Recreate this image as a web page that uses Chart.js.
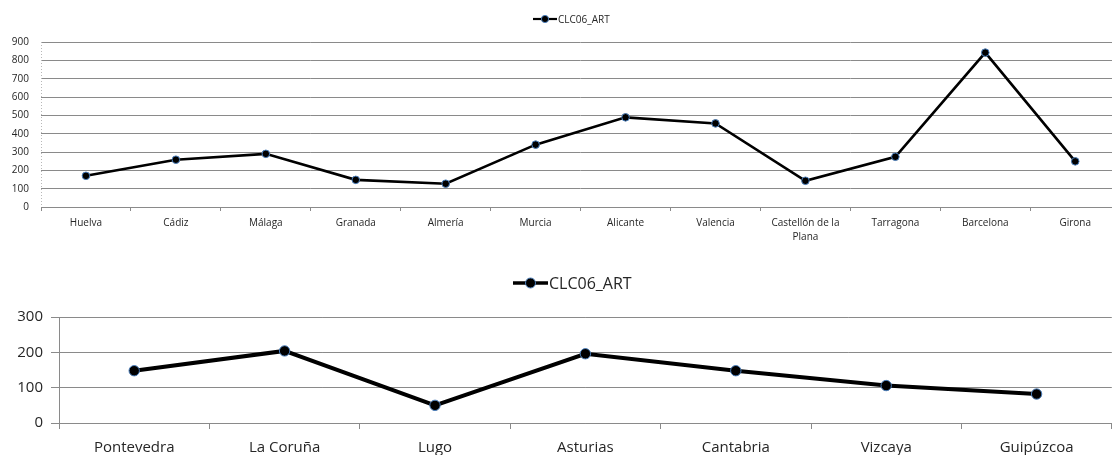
<!DOCTYPE html>
<html><head><meta charset="utf-8">
<script src="https://cdn.jsdelivr.net/npm/chart.js@4"></script>
<style>
html,body{margin:0;padding:0;background:#fff;overflow:hidden;width:1112px;height:455px;position:relative;}
#w1{position:absolute;left:0;top:0;width:1125px;height:262px;}
#w2{position:absolute;left:0;top:262px;width:1118px;height:193px;}
</style></head><body>
<div id="w1"><canvas id="c1"></canvas></div>
<div id="w2"><canvas id="c2"></canvas></div>
<script>
const seriesName = 'CLC06_ART';
const catsTop = ['Huelva','Cádiz','Málaga','Granada','Almería','Murcia','Alicante','Valencia',['Castellón de la','Plana'],'Tarragona','Barcelona','Girona'];
const valsTop = [170,258,290,148,127,340,489,456,143,274,842,249];
const yTopMin = 0, yTopMax = 900, yTopStep = 100;
const catsBottom = ['Pontevedra','La Coruña','Lugo','Asturias','Cantabria','Vizcaya','Guipúzcoa'];
const valsBottom = [148,204,50,196,148,106,82];
const yBotMin = 0, yBotMax = 300, yBotStep = 100;

const FONT = "'Open Sans', 'Liberation Sans', sans-serif";
const TXT = '#262626';
const GRID = '#8a8a8a';
const MARK_BORDER = '#4a7ebb';

function legendPlugin(o){
  return {
    id:'customLegend',
    afterDraw(chart){
      const ctx = chart.ctx;
      ctx.save();
      ctx.strokeStyle = '#000';
      ctx.lineWidth = o.lw;
      ctx.beginPath(); ctx.moveTo(o.x0, o.y); ctx.lineTo(o.x1, o.y); ctx.stroke();
      ctx.beginPath(); ctx.arc((o.x0+o.x1)/2, o.y, o.r, 0, Math.PI*2);
      ctx.fillStyle = '#000'; ctx.fill();
      ctx.lineWidth = 1; ctx.strokeStyle = MARK_BORDER; ctx.stroke();
      ctx.fillStyle = TXT;
      ctx.font = o.size + 'px ' + FONT;
      ctx.textAlign = 'left'; ctx.textBaseline = 'middle';
      ctx.fillText(seriesName, o.x1 + 1, o.y + 1);
      ctx.restore();
    }
  };
}

// dotted vertical axis line (only for the top chart)
const dottedAxisPlugin = {
  id:'dottedAxis',
  beforeDatasetsDraw(chart){
    const a = chart.chartArea, ctx = chart.ctx;
    const x = Math.round(a.left) + 0.5;
    ctx.save();
    ctx.strokeStyle = '#b8b8b8'; ctx.lineWidth = 1; ctx.setLineDash([1,2]);
    ctx.beginPath(); ctx.moveTo(x, a.top); ctx.lineTo(x, a.bottom); ctx.stroke();
    ctx.restore();
  }
};

function makeChart(id, cats, vals, opt){
  const plugins = [ legendPlugin(opt.legend) ];
  if (opt.dotted) plugins.push(dottedAxisPlugin);
  return new Chart(document.getElementById(id), {
    type:'line',
    data:{ labels: cats, datasets:[{
      label: seriesName, data: vals,
      borderColor:'#000', borderWidth: opt.lw, tension:0,
      pointRadius: opt.pr, pointHoverRadius: opt.pr,
      pointBackgroundColor:'#000', pointBorderColor: MARK_BORDER, pointBorderWidth:1
    }]},
    options:{
      responsive:true, maintainAspectRatio:false, animation:false,
      devicePixelRatio: 1,
      layout:{ padding:{ top: opt.padTop, left:0, right:0, bottom:0 } },
      plugins:{ legend:{display:false}, tooltip:{enabled:false}, title:{display:false} },
      events: [],
      scales:{
        x:{
          type:'category', offset:true,
          grid:{ offset:true, drawOnChartArea:false, drawTicks:true, tickLength: opt.xTick, color: GRID },
          border:{ color: GRID },
          ticks:{ color: TXT, font:{ family: FONT, size: opt.xFont, lineHeight: opt.xLH }, padding: opt.xPad, maxRotation:0, autoSkip:false },
          afterFit(s){ s.height = opt.xHeight; }
        },
        y:{
          min: opt.ymin, max: opt.ymax,
          grid:{ color: GRID, drawTicks: opt.yTick > 0, tickLength: opt.yTick },
          border: opt.yBorder,
          ticks:{ stepSize: opt.ystep, color: TXT, font:{ family: FONT, size: opt.yFont }, padding: opt.yPad },
          afterFit(s){ s.width = opt.yWidth; }
        }
      }
    },
    plugins: plugins
  });
}

makeChart('c1', catsTop, valsTop, {
  lw:2.6, pr:3.8, padTop:42, xTick:4, xFont:10, xLH:1.4, xPad:5, xHeight:55,
  ymin:yTopMin, ymax:yTopMax, ystep:yTopStep, yTick:0, yFont:10, yPad:12, yWidth:41,
  yBorder:{ display:false }, dotted:true,
  legend:{ y:19, x0:533, x1:557, r:3.6, lw:2.2, size:10 }
});

makeChart('c2', catsBottom, valsBottom, {
  lw:4, pr:5.2, padTop:55, xTick:6, xFont:15, xLH:1.2, xPad:10, xHeight:32,
  ymin:yBotMin, ymax:yBotMax, ystep:yBotStep, yTick:8, yFont:15, yPad:8, yWidth:59,
  yBorder:{ color: GRID }, dotted:false,
  legend:{ y:21, x0:513, x1:548, r:5, lw:3.5, size:16 }
});
</script>
</body></html>
